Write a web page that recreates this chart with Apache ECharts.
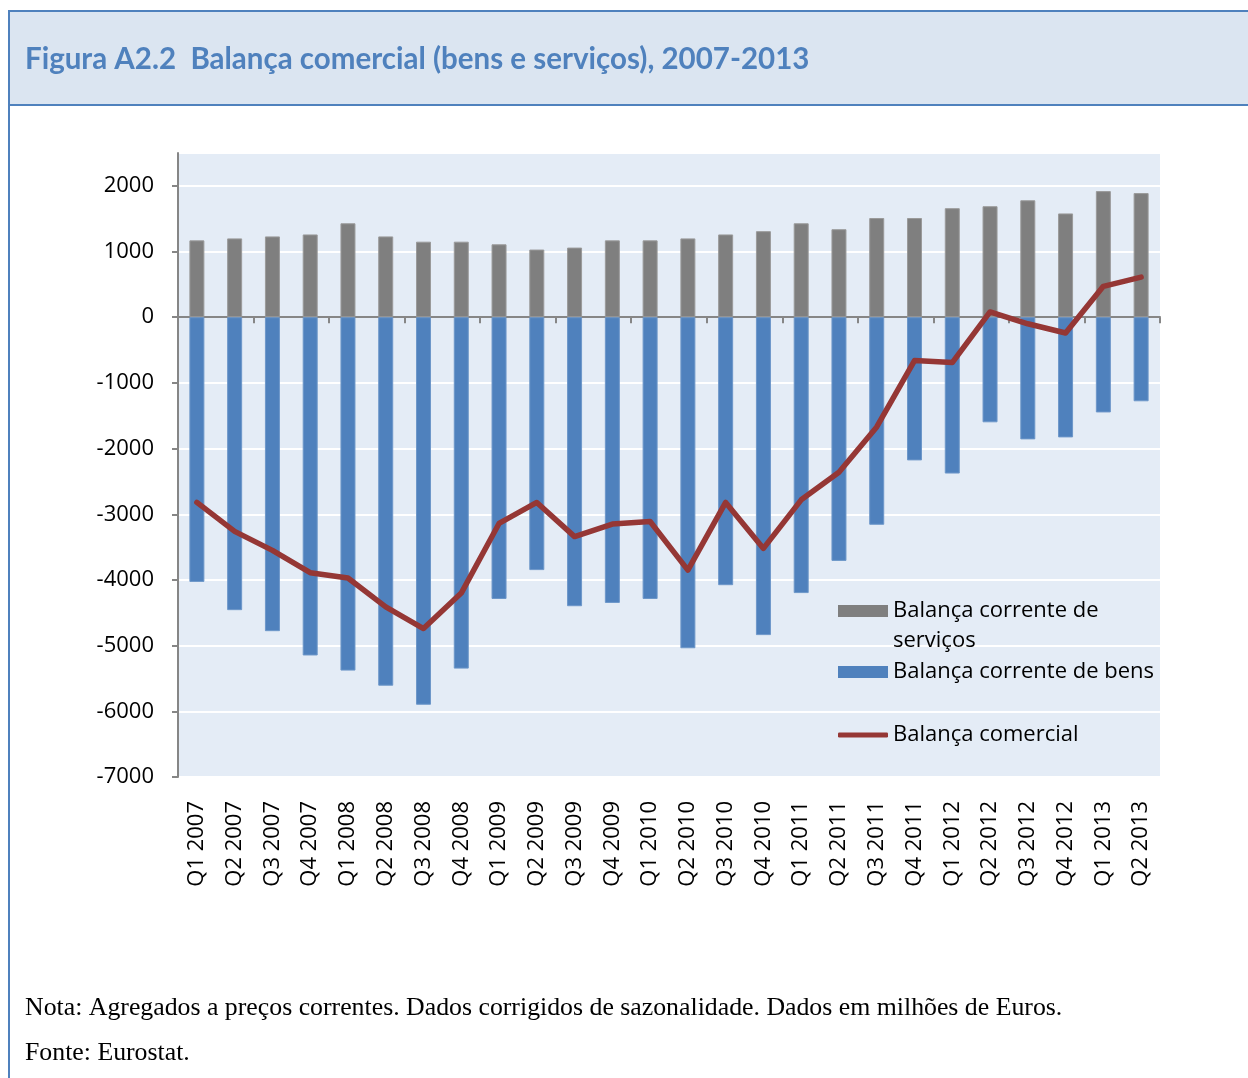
<!DOCTYPE html>
<html>
<head>
<meta charset="utf-8">
<script src="https://cdn.jsdelivr.net/npm/echarts@6/dist/echarts.min.js"></script>
<style>
html,body{margin:0;padding:0;background:#fff;}
#chart{width:1248px;height:1078px;}
</style>
</head>
<body>
<div id="chart"></div>
<script>
const categories = ['Q1 2007','Q2 2007','Q3 2007','Q4 2007','Q1 2008','Q2 2008','Q3 2008','Q4 2008','Q1 2009','Q2 2009','Q3 2009','Q4 2009','Q1 2010','Q2 2010','Q3 2010','Q4 2010','Q1 2011','Q2 2011','Q3 2011','Q4 2011','Q1 2012','Q2 2012','Q3 2012','Q4 2012','Q1 2013','Q2 2013'];
const servicos = [1170,1200,1230,1260,1430,1230,1150,1150,1110,1030,1060,1170,1170,1200,1260,1310,1430,1340,1510,1510,1660,1690,1780,1580,1920,1890];
const bens = [-4030,-4460,-4780,-5150,-5380,-5610,-5900,-5350,-4290,-3850,-4400,-4350,-4290,-5040,-4080,-4840,-4200,-3710,-3160,-2180,-2380,-1600,-1860,-1830,-1450,-1280];
const comercial = [-2820,-3260,-3550,-3890,-3970,-4410,-4740,-4200,-3140,-2820,-3340,-3150,-3110,-3850,-2820,-3520,-2780,-2360,-1670,-660,-690,80,-100,-240,470,610];
const yTicks = {min:-7000, max:2500, interval:1000};
const names = ['Balança corrente de serviços','Balança corrente de bens','Balança comercial'];
const titleText = 'Figura A2.2  Balança comercial (bens e serviços), 2007-2013';
const nota = 'Nota: Agregados a preços correntes. Dados corrigidos de sazonalidade. Dados em milhões de Euros.';
const fonte = 'Fonte: Eurostat.';

const chart = echarts.init(document.getElementById('chart'));
const FONT = '"Open Sans", sans-serif';
const FS = 22;
const legendBase = {
  orient:'vertical', left:833, itemWidth:50, itemHeight:12, itemGap:0,
  itemStyle:{borderWidth:0},
  textStyle:{fontFamily:FONT, fontSize:FS, color:'#000', lineHeight:30}
};
chart.setOption({
  animation:false,
  graphic:[
    {type:'rect', z:-20, silent:true, shape:{x:9,y:11,width:1260,height:1090}, style:{fill:'#fff', stroke:'#4f81bd', lineWidth:2}},
    {type:'rect', z:-19, silent:true, shape:{x:9,y:11,width:1260,height:94}, style:{fill:'#dbe5f1', stroke:'#4f81bd', lineWidth:2}},
    {type:'text', z:10, x:25, y:59, style:{text:titleText, font:'bold 29.5px Lato, sans-serif', fill:'#4f81bd', verticalAlign:'middle'}},
    {type:'text', z:10, x:25, y:1008, style:{text:nota, font:'25.8px "Liberation Serif", serif', fill:'#000', verticalAlign:'middle'}},
    {type:'text', z:10, x:25, y:1053, style:{text:fonte, font:'25.8px "Liberation Serif", serif', fill:'#000', verticalAlign:'middle'}}
  ],
  grid:{left:178, right:88, top:153, bottom:301, show:true, backgroundColor:'#e4ecf6', borderWidth:0},
  legend:[
    Object.assign({}, legendBase, {top:561, data:[{name:names[0], icon:'rect'}],
      formatter:function(){return ' \nBalança corrente de\nserviços';}}),
    Object.assign({}, legendBase, {top:652, data:[{name:names[1], icon:'rect'}]}),
    Object.assign({}, legendBase, {top:715, itemHeight:5, data:[{name:names[2], icon:'roundRect'}]})
  ],
  xAxis:[
    {type:'category', data:categories, boundaryGap:true,
      axisLine:{onZero:true, lineStyle:{color:'#868686', width:2}},
      axisTick:{show:true, length:6, lineStyle:{color:'#868686', width:2}},
      axisLabel:{show:false}},
    {type:'category', data:categories, boundaryGap:true, position:'bottom',
      axisLine:{show:false, onZero:false}, axisTick:{show:false},
      axisLabel:{rotate:90, margin:24, fontFamily:FONT, fontSize:FS, color:'#000', interval:0}}
  ],
  yAxis:{type:'value', min:yTicks.min, max:yTicks.max, interval:yTicks.interval,
    axisLine:{show:true, lineStyle:{color:'#868686', width:2}},
    axisTick:{show:true, length:6, lineStyle:{color:'#868686', width:2}},
    axisLabel:{showMaxLabel:false, margin:24, fontFamily:FONT, fontSize:FS, color:'#000',
      formatter:function(v){return String(v);}},
    splitLine:{show:true, lineStyle:{color:'#ffffff', width:2}}
  },
  series:[
    {name:names[0], type:'bar', data:servicos, barWidth:15, barGap:'-100%', z:2,
      itemStyle:{color:'#7f7f7f', borderColor:'#9a9a9a', borderWidth:1}},
    {name:names[1], type:'bar', data:bens, barWidth:15, barGap:'-100%', z:2,
      itemStyle:{color:'#4f81bd', borderColor:'#6d97c9', borderWidth:1}},
    {name:names[2], type:'line', data:comercial, symbol:'none', z:5,
      lineStyle:{color:'#953735', width:5.5, cap:'round', join:'round'}, itemStyle:{color:'#953735'}}
  ]
});
</script>
</body>
</html>
